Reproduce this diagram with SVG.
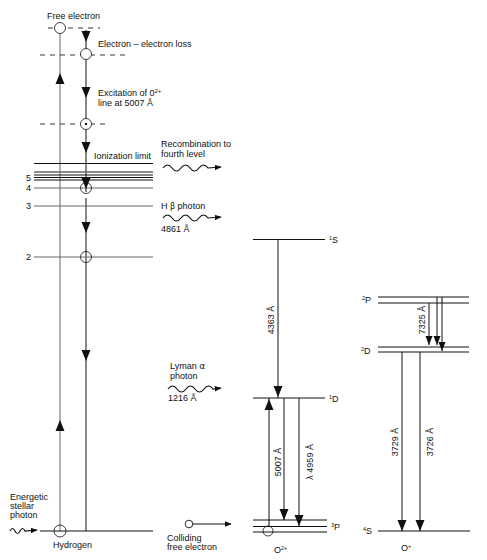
<svg xmlns="http://www.w3.org/2000/svg" xmlns:xlink="http://www.w3.org/1999/xlink" width="487" height="560" viewBox="0 0 487 560">
<style>
text{font-family:"Liberation Sans",Arial,sans-serif;font-size:9px;fill:#111}
.lv{stroke:#111;stroke-width:1;fill:none}
.lg{stroke:#666;stroke-width:1;fill:none}
.dash{stroke:#222;stroke-width:0.9;stroke-dasharray:5,5;fill:none}
.wave{stroke:#111;stroke-width:1.2;fill:none}
.circ{fill:#fff;stroke:#111;stroke-width:0.8}
.ring{fill:none;stroke:#111;stroke-width:0.8}
</style>
<defs>
<path id="dn" d="M-4.5,-11 L4.5,-11 L0,0 Z" fill="#111"/>
<path id="up" d="M-4.5,11 L4.5,11 L0,0 Z" fill="#111"/>
<path id="sdn" d="M-3.5,-9 L3.5,-9 L0,0 Z" fill="#111"/>
<marker id="ah" viewBox="0 0 10 10" refX="9" refY="5" markerWidth="7" markerHeight="7" markerUnits="userSpaceOnUse" orient="auto"><path d="M0,1 L10,5 L0,9 Z" fill="#111"/></marker>
</defs>

<g id="connectors">
  <line class="lg" x1="60" y1="28" x2="60" y2="531"/>
  <line class="lv" x1="86" y1="30" x2="86" y2="192"/>
  <line class="lv" x1="86" y1="198" x2="86" y2="531"/>
  <use href="#dn" x="86" y="42"/>
  <use href="#dn" x="86" y="98"/>
  <use href="#dn" x="86" y="153"/>
  <use href="#up" x="60" y="73"/>
  <use href="#up" x="60" y="420"/>
  <use href="#dn" x="86" y="233"/>
  <use href="#dn" x="86" y="361"/>
  <path class="wave" marker-end="url(#ah)" d="M163,168 q4.5,-6 9,0 t9,0 t9,0 t9,0 t9,0 l13,-1"/>
  <path class="wave" marker-end="url(#ah)" d="M163,218 q4.5,-6 9,0 t9,0 t9,0 t9,0 t9,0 l13,-1"/>
  <path class="wave" marker-end="url(#ah)" d="M168,389 q4.5,-6 9,0 t9,0 t9,0 t9,0 t9,0 l8,-1"/>
  <path class="wave" marker-end="url(#ah)" d="M10,531 q2.5,-5 5,0 t5,0 t5,0 l12,-1"/>
  <line class="lv" x1="193" y1="524" x2="231" y2="524" marker-end="url(#ah)"/>
  <line class="lv" x1="278" y1="240" x2="278" y2="398"/>
  <use href="#dn" x="278" y="397"/>
  <line class="lv" x1="269" y1="398" x2="269" y2="527"/>
  <use href="#up" x="269" y="399"/>
  <line class="lv" x1="284" y1="398" x2="284" y2="520"/>
  <use href="#dn" x="284" y="520"/>
  <line class="lv" x1="299" y1="398" x2="299" y2="526"/>
  <use href="#dn" x="299" y="526"/>
  <line class="lv" x1="429" y1="303" x2="429" y2="345"/>
  <line class="lv" x1="437" y1="297" x2="437" y2="345"/>
  <line class="lv" x1="442" y1="297" x2="442" y2="351"/>
  <use href="#sdn" x="429" y="345"/>
  <use href="#sdn" x="437" y="345"/>
  <use href="#sdn" x="442" y="351"/>
  <line class="lv" x1="402" y1="352" x2="402" y2="531"/>
  <line class="lv" x1="420" y1="352" x2="420" y2="531"/>
  <use href="#dn" x="402" y="531"/>
  <use href="#dn" x="420" y="531"/>
</g>

<g id="hydrogen">
  <line class="dash" x1="48" y1="28" x2="100" y2="28"/>
  <line class="dash" x1="40" y1="55" x2="128" y2="55"/>
  <line class="dash" x1="40" y1="124" x2="105" y2="124"/>
  <line class="lv" x1="34" y1="163.5" x2="153" y2="163.5" stroke-width="1.5"/>
  <line x1="34" y1="172" x2="153" y2="172" stroke="#666" stroke-width="1.6"/>
  <line class="lv" x1="34" y1="175" x2="153" y2="175" stroke-width="0.8"/>
  <line class="lv" x1="34" y1="177.5" x2="153" y2="177.5" stroke-width="0.8"/>
  <line class="lv" x1="34" y1="180" x2="153" y2="180" stroke-width="0.8"/>
  <line class="lg" x1="34" y1="188" x2="153" y2="188"/>
  <line class="lg" x1="34" y1="206" x2="153" y2="206"/>
  <line class="lg" x1="34" y1="257" x2="153" y2="257"/>
  <line class="lv" x1="40" y1="531" x2="153" y2="531" stroke-width="1.2"/>
  <circle class="circ" cx="60" cy="28" r="5.5"/>
  <circle class="circ" cx="86" cy="54" r="5.5"/>
  <circle class="circ" cx="86" cy="124" r="5.5"/>
  <circle cx="86" cy="124" r="1.2" fill="#111"/>
  <circle class="ring" cx="86" cy="188" r="5.5"/>
  <use href="#dn" x="86" y="189"/>
  <circle class="ring" cx="86" cy="257" r="5.5"/>
  <circle class="ring" cx="60" cy="531" r="6"/>
  <text x="47" y="19">Free electron</text>
  <text x="98" y="47">Electron – electron loss</text>
  <text x="98" y="96">Excitation of 0<tspan font-size="6" dy="-3">2+</tspan></text>
  <text x="98" y="106">line at 5007 Å</text>
  <text x="94" y="159">Ionization limit</text>
  <text x="161" y="147">Recombination to</text>
  <text x="161" y="157">fourth level</text>
  <text x="26" y="181">5</text>
  <text x="26" y="191">4</text>
  <text x="26" y="209">3</text>
  <text x="26" y="260">2</text>
  <text x="161" y="209">H <tspan font-family="'DejaVu Sans',sans-serif" font-size="8">β</tspan>  photon</text>
  <text x="161" y="232">4861 Å</text>
  <text x="170" y="369">Lyman <tspan font-family="'DejaVu Sans',sans-serif">α</tspan></text>
  <text x="170" y="379">photon</text>
  <text x="168" y="401">1216 Å</text>
  <text x="10" y="500">Energetic</text>
  <text x="10" y="509">stellar</text>
  <text x="10" y="518">photon</text>
  <text x="53" y="548">Hydrogen</text>
  <circle cx="189" cy="524" r="3.8" fill="none" stroke="#111" stroke-width="0.9"/>
  <text x="167" y="541">Colliding</text>
  <text x="167" y="550">free electron</text>
</g>

<g id="oxygen2plus">
  <line class="lv" x1="253" y1="239.5" x2="325" y2="239.5"/>
  <line class="lv" x1="253" y1="398" x2="325" y2="398"/>
  <line class="lv" x1="253" y1="520" x2="327" y2="520"/>
  <line class="lv" x1="253" y1="526.5" x2="327" y2="526.5"/>
  <line class="lv" x1="253" y1="532" x2="327" y2="532"/>
  <circle class="ring" cx="268" cy="531" r="5"/>
  <text x="329" y="243" font-size="8.5"><tspan font-size="5.5" dy="-3">1</tspan><tspan dy="3">S</tspan></text>
  <text x="329" y="402" font-size="8.5"><tspan font-size="5.5" dy="-3">1</tspan><tspan dy="3">D</tspan></text>
  <text x="331" y="530" font-size="8.5"><tspan font-size="5.5" dy="-3">3</tspan><tspan dy="3">P</tspan></text>
  <text transform="translate(274,320) rotate(-90)" text-anchor="middle">4363 Å</text>
  <text transform="translate(281,462) rotate(-90)" text-anchor="middle">5007 Å</text>
  <text transform="translate(313,462) rotate(-90)" text-anchor="middle"><tspan font-family="'DejaVu Sans',sans-serif" font-size="8">λ</tspan> 4959 Å</text>
  <text x="274" y="553">O<tspan font-size="5.5" dy="-3">2+</tspan></text>
</g>

<g id="oxygenplus">
  <line class="lv" x1="378" y1="297" x2="469" y2="297"/>
  <line class="lv" x1="378" y1="303" x2="469" y2="303"/>
  <line class="lv" x1="378" y1="347" x2="469" y2="347"/>
  <line class="lv" x1="378" y1="352" x2="469" y2="352"/>
  <line class="lv" x1="378" y1="531" x2="470" y2="531" stroke-width="1.2"/>
  <text x="362" y="303" font-size="8.5"><tspan font-size="5.5" dy="-3">2</tspan><tspan dy="3">P</tspan></text>
  <text x="361" y="354" font-size="8.5"><tspan font-size="5.5" dy="-3">2</tspan><tspan dy="3">D</tspan></text>
  <text x="363" y="534" font-size="8.5"><tspan font-size="5.5" dy="-3">4</tspan><tspan dy="3">S</tspan></text>
  <text transform="translate(425,320) rotate(-90)" text-anchor="middle">7325 Å</text>
  <text transform="translate(398,442) rotate(-90)" text-anchor="middle">3729 Å</text>
  <text transform="translate(433,442) rotate(-90)" text-anchor="middle">3726 Å</text>
  <text x="401" y="551">O<tspan font-size="5.5" dy="-3">+</tspan></text>
</g>
</svg>
